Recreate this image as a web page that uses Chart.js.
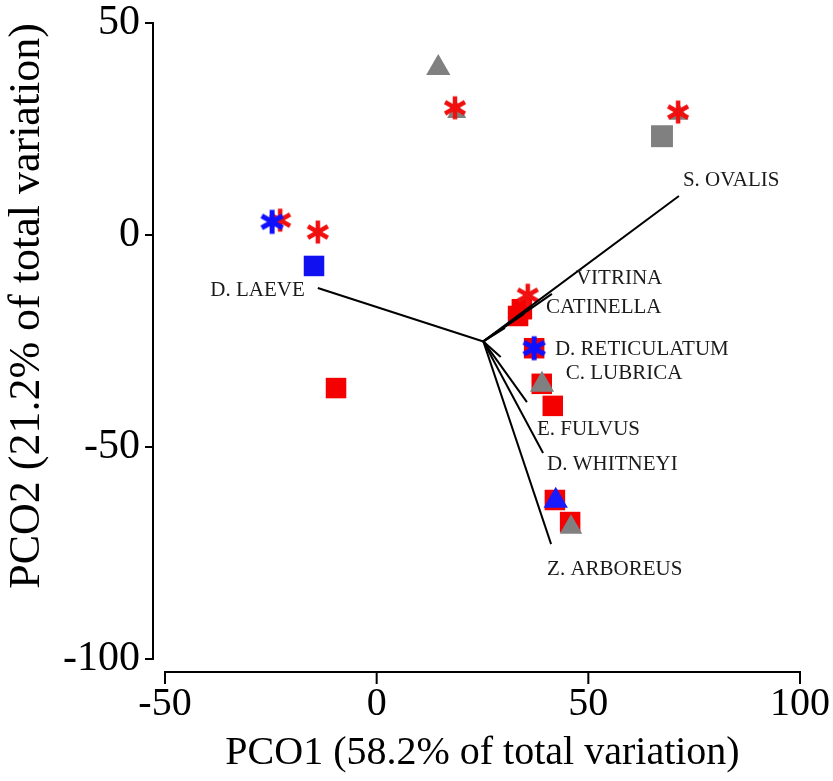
<!DOCTYPE html>
<html><head><meta charset="utf-8">
<script src="https://cdn.jsdelivr.net/npm/chart.js@4/dist/chart.umd.min.js"></script>
<style>html,body{margin:0;padding:0;background:#fff;}</style>
</head><body>
<canvas id="c" width="833" height="781" style="width:833px;height:781px;display:block"></canvas>
<script>
// ---- data ----
const xTicks = [-50, 0, 50, 100];
const yTicks = [-100, -50, 0, 50];

const redSquareX = [-9.6, 34.3, 33.4, 37.2, 39.0, 41.6, 42.1, 45.7];
const redSquareY = [-36.1, -17.5, -19.1, -26.7, -35.1, -40.3, -62.5, -67.7];
const graySquareX = [67.4];
const graySquareY = [23.3];
const blueSquareX = [-14.8];
const blueSquareY = [-7.3];
const grayTriX = [14.55, 18.9, 71.4, 39.05, 45.9];
const grayTriY = [39.4, 28.9, 28.5, -35.3, -68.9];
const blueTriX = [42.3];
const blueTriY = [-62.7];
const redStarX = [18.5, 71.2, -22.8, -13.9, 35.7];
const redStarY = [30.0, 29.0, 3.5, 0.7, -14.2];
const blueStarX = [-24.7, 37.2];
const blueStarY = [3.1, -26.7];

const vectorNames = ['D. LAEVE','S. OVALIS','VITRINA','CATINELLA','D. RETICULATUM','C. LUBRICA','E. FULVUS','D. WHITNEYI','Z. ARBOREUS'];
const vectorOrigin = [25.2, -25.1];
const vectorEndX = [-13.9, 71.4, 41.4, 34.8, 30.3, 29.3, 35.5, 39.3, 41.2];
const vectorEndY = [-12.5, 9.2, -13.9, -18.6, -21.9, -28.8, -39.4, -51.4, -72.9];

const xTitle = 'PCO1 (58.2% of total variation)';
const yTitle = 'PCO2 (21.2% of total variation)';

// ---- helpers ----
const zip = (xs, ys) => xs.map((x, i) => ({x, y: ys[i]}));
function makeStar(color, r, lw) {
  const s = Math.ceil(2 * r + lw + 2);
  const c = document.createElement('canvas');
  c.width = s; c.height = s;
  const g = c.getContext('2d');
  g.translate(s / 2, s / 2);
  g.strokeStyle = color; g.lineWidth = lw;
  for (let k = 0; k < 3; k++) {
    const a = Math.PI / 2 + k * Math.PI / 3;
    g.beginPath();
    g.moveTo(r * Math.cos(a), r * Math.sin(a));
    g.lineTo(-r * Math.cos(a), -r * Math.sin(a));
    g.stroke();
  }
  return c;
}
const redStar = makeStar('#f01010', 11.5, 4.5);
const blueStar = makeStar('#1010ff', 12, 5);

const FONT = "'Liberation Serif', 'Times New Roman', serif";

const datasets = [];
vectorNames.forEach((n, i) => {
  datasets.push({
    label: n,
    data: [{x: vectorOrigin[0], y: vectorOrigin[1]}, {x: vectorEndX[i], y: vectorEndY[i]}],
    showLine: true, borderColor: '#000', borderWidth: 2, pointRadius: 0, order: 0
  });
});
datasets.push(
  {label: 'blue star', data: zip(blueStarX, blueStarY), pointStyle: blueStar, pointRadius: 12, order: 1},
  {label: 'blue triangle', data: zip(blueTriX, blueTriY), pointStyle: 'triangle', pointRadius: 14, backgroundColor: '#1a1aff', borderColor: '#1a1aff', borderWidth: 0, order: 2},
  {label: 'blue square', data: zip(blueSquareX, blueSquareY), pointStyle: 'rect', pointRadius: 14.5, backgroundColor: '#1010f0', borderColor: '#1010f0', borderWidth: 0, order: 3},
  {label: 'red star', data: zip(redStarX, redStarY), pointStyle: redStar, pointRadius: 12, order: 4},
  {label: 'gray triangle', data: zip(grayTriX, grayTriY), pointStyle: 'triangle', pointRadius: [14, 11, 11, 14, 13], backgroundColor: '#808080', borderColor: '#808080', borderWidth: 0, order: 5},
  {label: 'gray square', data: zip(graySquareX, graySquareY), pointStyle: 'rect', pointRadius: 15.5, backgroundColor: '#808080', borderColor: '#808080', borderWidth: 0, order: 6},
  {label: 'red square', data: zip(redSquareX, redSquareY), pointStyle: 'rect', pointRadius: 14.5, backgroundColor: '#f40000', borderColor: '#f40000', borderWidth: 0, order: 7}
);

const offsetAxes = {
  id: 'offsetAxes',
  afterDraw(chart) {
    const {ctx, chartArea, scales: {x, y}} = chart;
    ctx.save();
    ctx.strokeStyle = '#000'; ctx.lineWidth = 2;
    const ax = chartArea.left - 12;
    const ay = chartArea.bottom + 13;
    ctx.beginPath();
    ctx.moveTo(ax, y.getPixelForValue(yTicks[yTicks.length - 1]) - 1);
    ctx.lineTo(ax, y.getPixelForValue(yTicks[0]) + 1);
    yTicks.forEach(v => { const p = y.getPixelForValue(v); ctx.moveTo(ax, p); ctx.lineTo(ax - 8, p); });
    ctx.moveTo(x.getPixelForValue(xTicks[0]) - 1, ay);
    ctx.lineTo(x.getPixelForValue(xTicks[xTicks.length - 1]) + 1, ay);
    xTicks.forEach(v => { const p = x.getPixelForValue(v); ctx.moveTo(p, ay); ctx.lineTo(p, ay + 12); });
    ctx.stroke();
    ctx.restore();
  }
};

const vectorLabels = {
  id: 'vectorLabels',
  afterDatasetsDraw(chart, args, opts) {
    const {ctx, scales: {x, y}} = chart;
    ctx.save();
    ctx.font = '21px ' + FONT;
    ctx.fillStyle = '#1a1a1a';
    ctx.textBaseline = 'middle';
    vectorNames.forEach((n, i) => {
      const o = opts.offsets[i];
      ctx.textAlign = o[2];
      ctx.fillText(n, x.getPixelForValue(vectorEndX[i]) + o[0], y.getPixelForValue(vectorEndY[i]) + o[1]);
    });
    ctx.restore();
  }
};

new Chart(document.getElementById('c'), {
  type: 'scatter',
  data: {datasets},
  options: {
    responsive: false, animation: false, devicePixelRatio: 1,
    layout: {padding: {top: 23, right: 33, bottom: 0, left: 0}},
    plugins: {
      legend: {display: false}, tooltip: {enabled: false},
      vectorLabels: {offsets: [[-13, 2, 'right'], [4, -16, 'left'], [24, -15, 'left'], [22, -6, 'left'], [50, 22, 'left'], [65, 16, 'left'], [10, 27, 'left'], [4, 12, 'left'], [-4, 25, 'left']]}
    },
    scales: {
      x: {
        type: 'linear', min: -50, max: 100,
        afterBuildTicks: s => { s.ticks = xTicks.map(v => ({value: v})); },
        afterFit: s => { s.height = 122; s.paddingLeft = 0; s.paddingRight = 0; s.paddingTop = 0; s.paddingBottom = 0; },
        border: {display: false},
        grid: {display: false, drawTicks: false},
        ticks: {color: '#000', font: {family: FONT, size: 40}, padding: 21, maxRotation: 0},
        title: {display: true, text: xTitle, color: '#000', font: {family: FONT, size: 40}, padding: {top: 0, bottom: 4}}
      },
      y: {
        type: 'linear', min: -100, max: 50,
        afterBuildTicks: s => { s.ticks = yTicks.map(v => ({value: v})); },
        afterFit: s => { s.width = 165; s.paddingLeft = 0; s.paddingRight = 0; s.paddingTop = 0; s.paddingBottom = 0; },
        border: {display: false},
        grid: {display: false, drawTicks: false},
        ticks: {color: '#000', font: {family: FONT, size: 42}, padding: 25},
        title: {display: true, text: yTitle, align: 'end', color: '#000', font: {family: FONT, size: 44}, padding: {top: 1, bottom: 0}}
      }
    }
  },
  plugins: [offsetAxes, vectorLabels]
});
</script>
</body></html>
